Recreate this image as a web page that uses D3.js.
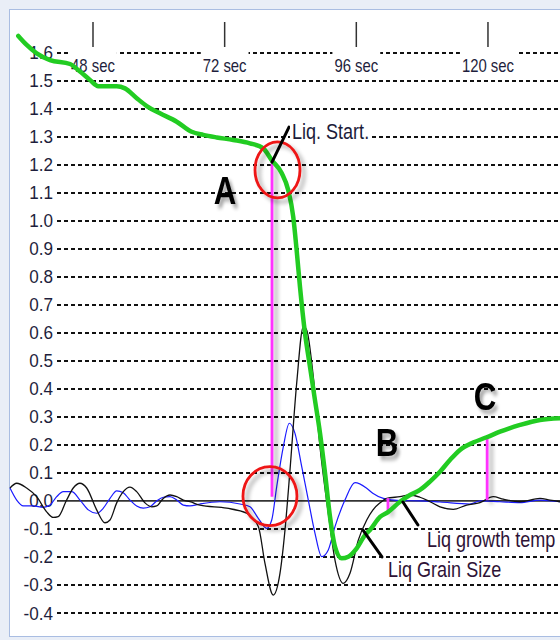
<!DOCTYPE html>
<html>
<head>
<meta charset="utf-8">
<script src="https://cdn.jsdelivr.net/npm/d3@7"></script>
<style>
  html, body { margin: 0; padding: 0; background: #e9eef7; }
  svg { display: block; }
</style>
</head>
<body>
<script>
// ---- Data -------------------------------------------------------------
// Cooling curve (green), seconds vs value
const coolTime  = [34.38, 35.91, 37.74, 40.16, 43.81, 45.63, 47.45, 48.97, 52.32, 53.83,
                   55.97, 57.79, 60.21, 63.26, 65.99, 68.11, 70.55, 73.57, 76.60, 79.04,
                   80.57, 82.39, 83.59, 84.50, 85.12, 85.73, 86.64, 87.55, 88.46, 89.38,
                   90.29, 91.20, 92.11, 93.33, 94.54, 96.07, 97.58, 98.49, 100.32, 101.77,
                   103.96, 105.78, 107.60, 109.43, 111.25, 113.07, 114.90, 117.27, 119.76, 122.19,
                   125.84, 129.48, 133.13];
const coolValue = [1.659, 1.627, 1.597, 1.573, 1.559, 1.532, 1.502, 1.480, 1.480, 1.472,
                   1.437, 1.409, 1.383, 1.353, 1.317, 1.306, 1.297, 1.288, 1.276, 1.258,
                   1.216, 1.170, 1.109, 1.014, 0.895, 0.764, 0.599, 0.479, 0.360, 0.242,
                   0.100, -0.056, -0.163, -0.205, -0.199, -0.169, -0.122, -0.104, -0.057, -0.040,
                   -0.003, 0.021, 0.039, 0.069, 0.104, 0.146, 0.182, 0.208, 0.227, 0.247,
                   0.271, 0.289, 0.295];

// Second derivative trace (black)
const secondTime  = [32.87, 34.09, 35.90, 37.73, 39.55, 40.75, 41.66, 43.19, 44.40, 45.62,
                     46.85, 48.67, 50.18, 51.10, 52.32, 53.52, 54.74, 55.96, 57.48, 58.70,
                     59.61, 60.81, 62.04, 63.26, 64.46, 65.68, 67.51, 72.37, 76.00, 78.15,
                     79.35, 80.86, 82.09, 83.00, 83.91, 85.13, 86.34, 86.95, 88.16, 89.38,
                     90.89, 92.11, 93.63, 94.85, 96.36, 97.90, 99.04, 100.32, 101.54, 103.96,
                     105.78, 107.60, 109.43, 111.25, 113.68, 116.11, 118.54, 120.96, 122.79, 125.83,
                     129.48, 131.30, 133.13];
const secondValue = [0.046, 0.063, 0.046, 0.015, -0.039, -0.059, -0.056, 0.003, 0.046, 0.063,
                     0.046, -0.032, -0.078, -0.068, -0.007, 0.033, 0.049, 0.033, -0.007, -0.021,
                     -0.018, 0.009, 0.021, 0.015, 0.003, -0.003, -0.015, -0.026, -0.044, -0.092,
                     -0.223, -0.336, -0.258, -0.104, 0.110, 0.420, 0.622, 0.610, 0.443, 0.193,
                     -0.044, -0.211, -0.294, -0.258, -0.140, -0.068, -0.032, -0.007, 0.009, 0.015,
                     0.021, 0.013, -0.003, -0.021, -0.030, -0.015, -0.006, 0.015, 0.006, -0.003,
                     0.009, 0.003, -0.003];

// First derivative trace (blue)
const firstTime  = [32.87, 34.09, 35.29, 37.11, 38.94, 40.16, 41.38, 42.58, 44.12, 45.63,
                    47.14, 48.67, 49.88, 51.10, 52.32, 53.52, 54.74, 55.96, 57.16, 58.39,
                    59.61, 60.81, 62.04, 63.26, 64.46, 65.68, 67.51, 71.15, 74.80, 76.62,
                    78.13, 79.66, 80.58, 81.49, 82.69, 83.79, 84.82, 86.05, 87.25, 88.47,
                    89.69, 90.89, 92.11, 93.93, 95.76, 97.89, 99.00, 100.92, 103.96, 107.60,
                    111.25, 116.72, 118.54, 122.19, 125.83, 129.48, 133.13];
const firstValue = [0.046, 0.003, -0.018, -0.018, -0.023, -0.015, 0.015, 0.033, 0.033, 0.003,
                    -0.032, -0.044, -0.026, 0.009, 0.036, 0.029, 0.003, -0.018, -0.026, -0.021,
                    0.000, 0.013, 0.015, 0.003, -0.015, -0.018, -0.011, -0.003, -0.011, -0.021,
                    -0.062, -0.098, -0.068, 0.051, 0.193, 0.277, 0.241, 0.122, 0.003, -0.116,
                    -0.199, -0.175, -0.092, 0.003, 0.065, 0.045, 0.027, 0.009, 0.001, 0.000,
                    -0.004, -0.011, 0.000, -0.003, -0.006, 0.003, -0.003];

// Axis ticks
const xTickValues = [48, 72, 96, 120];
const xTickLabels = ["48 sec", "72 sec", "96 sec", "120 sec"];
const yTickValues = [1.6, 1.5, 1.4, 1.3, 1.2, 1.1, 1.0, 0.9, 0.8, 0.7, 0.6, 0.5, 0.4,
                     0.3, 0.2, 0.1, 0.0, -0.1, -0.2, -0.3, -0.4];
const yTickLabels = ["1.6", "1.5", "1.4", "1.3", "1.2", "1.1", "1.0", "0.9", "0.8", "0.7",
                     "0.6", "0.5", "0.4", "0.3", "0.2", "0.1", "0.0", "-0.1", "-0.2", "-0.3", "-0.4"];

// Event markers (magenta drop lines)
const markerTime   = [80.63, 101.77, 119.85];
const markerTop    = [1.204, 0.010, 0.228];
const markerBottom = [0.015, -0.043, 0.003];

// Callout letters
const letterText  = ["A", "B", "C"];
const letterTime  = [72.06, 101.60, 119.45];
const letterValue = [1.059, 0.160, 0.324];

// Highlight ellipses
const ringTime  = [81.63, 80.26];
const ringValue = [1.181, 0.017];

// Labelled pointers
const noteText      = ["Liq. Start.", "Liq growth temp", "Liq Grain Size"];
const noteTime      = [84.27, 108.88, 101.77];
const noteValue     = [1.292, -0.164, -0.271];
const pointerFromT  = [80.63, 104.50, 97.22];
const pointerFromV  = [1.209, -0.004, -0.104];
const pointerToT    = [83.73, 107.24, 100.68];
const pointerToV    = [1.334, -0.086, -0.200];

// ---- Layout -----------------------------------------------------------
const W = 560, H = 640;
const x = d3.scaleLinear().domain([32.87, 133.13]).range([10, 560]);
const y = d3.scaleLinear().domain([-0.4, 1.6]).range([613, 52.5]);
const gridLeft = 57;
const font = "Tahoma, 'Liberation Sans', Arial, sans-serif";

const svg = d3.select("body").append("svg")
  .attr("width", W).attr("height", H);

// Soft drop shadow; a generous user-space region so thin lines and
// transformed text keep their shadow
const defs = svg.append("defs");
const shadow = defs.append("filter").attr("id", "shadow")
  .attr("filterUnits", "userSpaceOnUse")
  .attr("x", -1000).attr("y", -1000).attr("width", 3000).attr("height", 3000);
shadow.append("feGaussianBlur").attr("in", "SourceAlpha").attr("stdDeviation", 2.2).attr("result", "b");
shadow.append("feOffset").attr("in", "b").attr("dx", 4).attr("dy", 4).attr("result", "o");
shadow.append("feComponentTransfer").attr("in", "o").attr("result", "s")
  .append("feFuncA").attr("type", "linear").attr("slope", 0.35);
const merge = shadow.append("feMerge");
merge.append("feMergeNode").attr("in", "s");
merge.append("feMergeNode").attr("in", "SourceGraphic");

// Window frame and white plotting panel
svg.append("rect").attr("width", W).attr("height", H).attr("fill", "#e9eef7");
svg.append("rect").attr("x", 9.5).attr("y", 9.5).attr("width", W).attr("height", 627)
  .attr("fill", "#ffffff").attr("stroke", "#a9bde2").attr("stroke-width", 1);

// Dashed grid lines
const grid = svg.append("g");
yTickValues.forEach((v, i) => {
  const yy = Math.round(y(v));
  if (yTickLabels[i] === "0.0") return;
  grid.append("line")
    .attr("x1", gridLeft).attr("x2", W)
    .attr("y1", yy).attr("y2", yy)
    .attr("stroke", "#111").attr("stroke-width", 2)
    .attr("stroke-dasharray", "4,3");
});

// Zero baseline
svg.append("line")
  .attr("x1", gridLeft).attr("x2", W)
  .attr("y1", y(0)).attr("y2", y(0))
  .attr("stroke", "#333").attr("stroke-width", 1.6);

// Y tick labels
svg.append("g").selectAll("text").data(yTickValues).join("text")
  .attr("transform", d => `translate(53,${y(d) + 6.5}) scale(0.9,1)`)
  .attr("text-anchor", "end")
  .attr("font-family", font).attr("font-size", 19)
  .attr("fill", "#1e1e3c")
  .text((d, i) => yTickLabels[i]);

// Top time axis: tick marks and labels on white boxes
const xAxisG = svg.append("g");
xTickValues.forEach((t, i) => {
  xAxisG.append("line")
    .attr("x1", x(t)).attr("x2", x(t)).attr("y1", 22).attr("y2", 47)
    .attr("stroke", "#333").attr("stroke-width", 1.5);
  const lbl = xAxisG.append("text")
    .attr("transform", `translate(${x(t)},72) scale(0.85,1)`)
    .attr("text-anchor", "middle")
    .attr("font-family", font).attr("font-size", 17.5)
    .attr("fill", "#1e1e3c")
    .text(xTickLabels[i]);
  const w = lbl.node().getBBox().width * 0.85;
  xAxisG.insert("rect", () => lbl.node())
    .attr("x", x(t) - w / 2 - 2).attr("y", 49).attr("width", w + 4).attr("height", 26)
    .attr("fill", "#ffffff");
});

const lineGen = d3.line().curve(d3.curveMonotoneX);

// First derivative (blue)
svg.append("path")
  .attr("d", lineGen(firstTime.map((t, i) => [x(t), y(firstValue[i])])))
  .attr("fill", "none").attr("stroke", "#1a1aff").attr("stroke-width", 1.2);

// Second derivative (black)
svg.append("path")
  .attr("d", lineGen(secondTime.map((t, i) => [x(t), y(secondValue[i])])))
  .attr("fill", "none").attr("stroke", "#111").attr("stroke-width", 1.3);

// Magenta marker lines
svg.append("g").selectAll("line").data(markerTime).join("line")
  .attr("x1", d => x(d)).attr("x2", d => x(d))
  .attr("y1", (d, i) => y(markerTop[i])).attr("y2", (d, i) => y(markerBottom[i]))
  .attr("stroke", "#ff33ff").attr("stroke-width", 2.8)
  .attr("filter", "url(#shadow)");

// Cooling curve (green)
svg.append("path")
  .attr("d", lineGen(coolTime.map((t, i) => [x(t), y(coolValue[i])])))
  .attr("fill", "none").attr("stroke", "#22cc22").attr("stroke-width", 4.5)
  .attr("stroke-linejoin", "round").attr("stroke-linecap", "round");

// Red highlight ellipses
const ringRx = [22.5, 27], ringRy = [28, 29.5];
svg.append("g").selectAll("ellipse").data(ringTime).join("ellipse")
  .attr("cx", d => x(d)).attr("cy", (d, i) => y(ringValue[i]))
  .attr("rx", (d, i) => ringRx[i]).attr("ry", (d, i) => ringRy[i])
  .attr("fill", "none").attr("stroke", "#ee1515").attr("stroke-width", 2.8)
  .attr("filter", "url(#shadow)");

// Pointers
svg.append("g").selectAll("line").data(pointerFromT).join("line")
  .attr("x1", d => x(d)).attr("y1", (d, i) => y(pointerFromV[i]))
  .attr("x2", (d, i) => x(pointerToT[i])).attr("y2", (d, i) => y(pointerToV[i]))
  .attr("stroke", "#000").attr("stroke-width", 3).attr("stroke-linecap", "round");

// Pointer labels on white boxes
const noteColors = ["#1c1c3a", "#2e1236", "#2e1236"];
const noteScale = 0.82;
noteText.forEach((s, i) => {
  const g = svg.append("g");
  const px = x(noteTime[i]), py = y(noteValue[i]);
  const t = g.append("text")
    .attr("transform", `translate(${px},${py}) scale(${noteScale},1)`)
    .attr("font-family", font).attr("font-size", 22)
    .attr("fill", noteColors[i])
    .text(s);
  const bb = t.node().getBBox();
  g.insert("rect", () => t.node())
    .attr("x", px - 2).attr("y", py + bb.y + 3)
    .attr("width", bb.width * noteScale + 4).attr("height", bb.height - 3)
    .attr("fill", "#ffffff");
});

// Callout letters
svg.append("g").selectAll("text").data(letterText).join("text")
  .attr("transform", (d, i) => `translate(${x(letterTime[i])},${y(letterValue[i])}) scale(0.8,1)`)
  .attr("text-anchor", "middle")
  .attr("font-family", font).attr("font-weight", "bold").attr("font-size", 39)
  .attr("fill", "#000")
  .attr("filter", "url(#shadow)")
  .text(d => d);
</script>
</body>
</html>
